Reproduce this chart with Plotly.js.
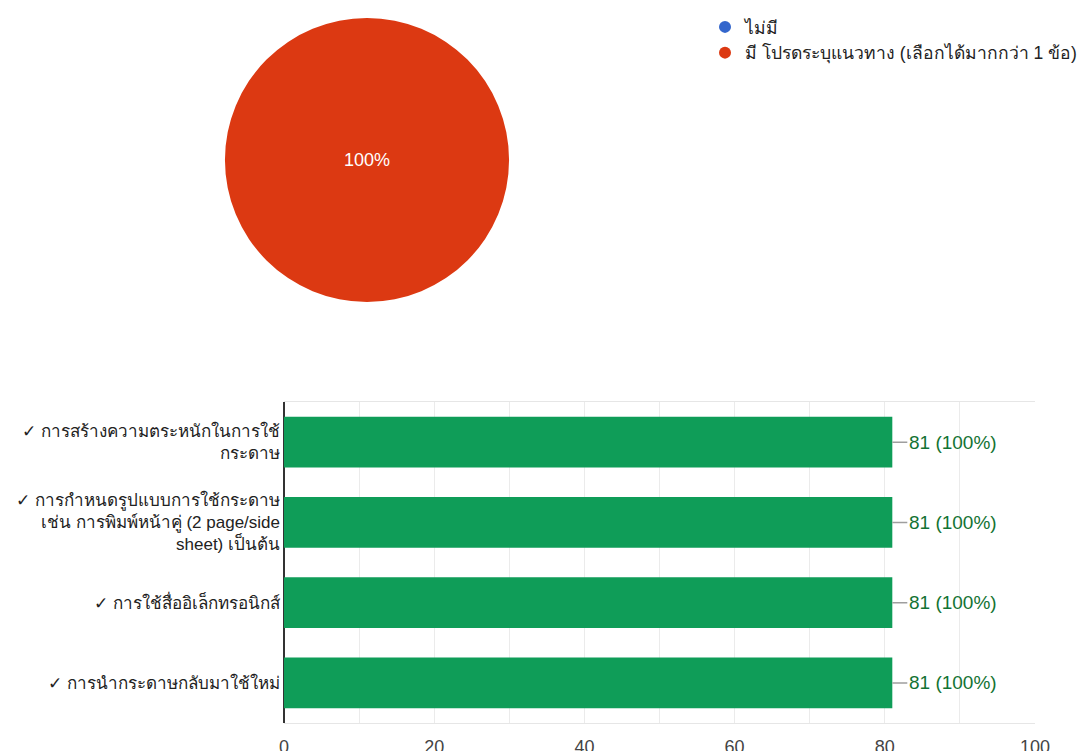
<!DOCTYPE html>
<html>
<head>
<meta charset="utf-8">
<script src="https://cdn.plot.ly/plotly-3.0.1.min.js"></script>
<style>html,body{margin:0;padding:0;background:#fff;}#chart{width:1083px;height:751px;}</style>
</head>
<body>
<div id="chart"></div>
<script>
// Pie data
const pieLabels = ["ไม่มี", "มี โปรดระบุแนวทาง (เลือกได้มากกว่า 1 ข้อ)"];
const pieValues = [0, 81];
const pieColors = ["#3366cc", "#dc3912"];

// Bar data
const barCategories = [
  "✓ การสร้างความตระหนักในการใช้<br>กระดาษ",
  "✓ การกำหนดรูปแบบการใช้กระดาษ<br>เช่น การพิมพ์หน้าคู่ (2 page/side<br>sheet) เป็นต้น",
  "✓ การใช้สื่ออิเล็กทรอนิกส์",
  "✓ การนำกระดาษกลับมาใช้ใหม่"
];
const barValues = [81, 81, 81, 81];
const barPercents = [100, 100, 100, 100];
const xTicks = [0, 20, 40, 60, 80, 100];

const W = 1083, H = 751;
const FONT = "Arial, 'Liberation Sans', sans-serif";

const traces = [
  {
    type: "pie",
    labels: pieLabels,
    values: pieValues,
    sort: false,
    direction: "clockwise",
    marker: {colors: pieColors, line: {width: 0}},
    textinfo: "percent",
    texttemplate: "%{percent:.0%}",
    textposition: "inside",
    insidetextfont: {color: "#ffffff", size: 18, family: FONT},
    hoverinfo: "none",
    showlegend: false,
    domain: {x: [225 / W, 509 / W], y: [1 - 302 / H, 1 - 18 / H]}
  },
  {
    type: "bar",
    orientation: "h",
    x: barValues,
    y: barCategories,
    marker: {color: "#0f9d58"},
    showlegend: false,
    hoverinfo: "none"
  }
];
// legend entries (circle markers) built from pie data
pieLabels.forEach((lab, i) => {
  traces.push({
    type: "scatter", mode: "markers", x: [null], y: [null],
    name: lab, marker: {color: pieColors[i], size: 18, symbol: "circle"},
    showlegend: true, hoverinfo: "none", xaxis: "x", yaxis: "y"
  });
});

const annotations = barCategories.map((c, i) => ({
  x: barValues[i], y: i, xref: "x", yref: "y",
  text: barValues[i] + " (" + barPercents[i] + "%)",
  showarrow: true, arrowhead: 0, arrowwidth: 1.5, arrowcolor: "#9e9e9e",
  ax: 15, ay: 0, xanchor: "left", standoff: 0,
  font: {family: FONT, size: 19, color: "#137333"}
}));

const layout = {
  width: W, height: H,
  margin: {l: 0, r: 0, t: 0, b: 0, autoexpand: false},
  paper_bgcolor: "#ffffff", plot_bgcolor: "#ffffff",
  font: {family: FONT, color: "#222222"},
  showlegend: true,
  legend: {
    x: 705 / W, y: 1 - 9 / H, xanchor: "left", yanchor: "top",
    font: {size: 17.5, color: "#222222", family: FONT},
    itemsizing: "constant", tracegroupgap: 0,
    bgcolor: "rgba(0,0,0,0)"
  },
  bargap: 0.365,
  xaxis: {
    type: "linear",
    domain: [284 / W, 1035 / W],
    range: [0, 100],
    tickvals: xTicks,
    ticktext: xTicks.map(String),
    showgrid: true, gridcolor: "#ebebeb", gridwidth: 1,
    minor: {dtick: 10, showgrid: true, gridcolor: "#ebebeb", gridwidth: 1},
    zeroline: true, zerolinecolor: "#333333", zerolinewidth: 1.5,
    showline: true, linecolor: "#e6e6e6", linewidth: 1, mirror: true,
    ticks: "", ticklabelstandoff: 7,
    tickfont: {size: 18, color: "#444444", family: FONT},
    fixedrange: true, automargin: false
  },
  yaxis: {
    type: "category",
    categoryorder: "array", categoryarray: barCategories,
    domain: [1 - 723 / H, 1 - 402 / H],
    autorange: "reversed",
    showgrid: false, zeroline: false, showline: false,
    ticks: "", ticklabelstandoff: 3,
    tickfont: {size: 17, color: "#222222", family: FONT},
    fixedrange: true, automargin: false
  },
  annotations: annotations
};

Plotly.newPlot("chart", traces, layout, {displayModeBar: false, staticPlot: true});
</script>
</body>
</html>
